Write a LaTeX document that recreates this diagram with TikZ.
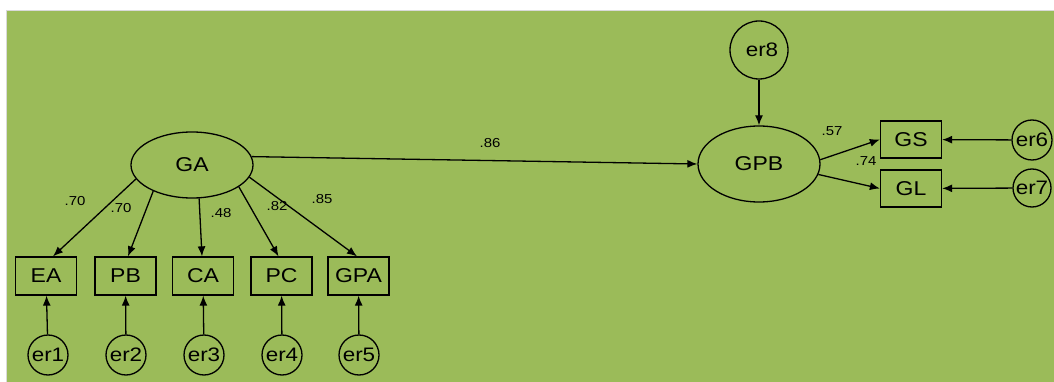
\documentclass[tikz,border=0pt]{standalone}
\usepackage{fontspec}
\setmainfont{Liberation Sans}[FakeStretch=1.15]
\usetikzlibrary{shapes.geometric,arrows.meta}
\definecolor{bggreen}{HTML}{9BBB59}
\definecolor{edgegray}{HTML}{D9D9D9}
\begin{document}
\begin{tikzpicture}[x=1pt,y=-1pt,
  lat/.style={ellipse,draw,line width=1.3pt,minimum width=122pt,minimum height=66pt,inner sep=0pt,font=\fontsize{20}{22}\selectfont},
  obs/.style={rectangle,draw,line width=1.3pt,minimum width=61pt,minimum height=38pt,inner sep=0pt,font=\fontsize{20}{22}\selectfont},
  err/.style={circle,draw,line width=1.3pt,minimum size=40pt,inner sep=0pt,font=\fontsize{19.5}{21}\selectfont},
  arr/.style={draw,line width=1.3pt,-{Latex[length=10pt,width=8pt]}},
  coef/.style={font=\fontsize{13}{14}\selectfont,inner sep=0pt}]
\useasboundingbox (0,0) rectangle (1054,382);
\fill[white] (0,0) rectangle (1054,382);
\fill[bggreen] (7,11) rectangle (1054,382);
\draw[edgegray,line width=1pt] (6.5,382) -- (6.5,10.5) -- (1054,10.5);

% latent variables
\node[lat] (GA) at (192,165) {GA};
\node[lat,minimum height=76pt] (GPB) at (759,164) {GPB};

% observed variables
\node[obs] (EA) at (46,276) {EA};
\node[obs] (PB) at (125.5,276) {PB};
\node[obs] (CA) at (203,276) {CA};
\node[obs] (PC) at (281.5,276) {PC};
\node[obs] (GPA) at (358.5,276) {GPA};
\node[obs,minimum height=37pt] (GS) at (911,139.5) {GS};
\node[obs,minimum height=37pt] (GL) at (911,188.5) {GL};

% errors
\node[err] (er1) at (48,355) {er1};
\node[err] (er2) at (126,355) {er2};
\node[err] (er3) at (204,355) {er3};
\node[err] (er4) at (282,355) {er4};
\node[err] (er5) at (359,355) {er5};
\node[err] (er6) at (1032,140) {er6};
\node[err,minimum size=38pt] (er7) at (1032,188) {er7};
\node[err,minimum size=58pt] (er8) at (759,50) {\hspace{6pt}er8};

% paths from GA
\draw[arr] (GA.194) -- ([xshift=7pt]EA.north);
\draw[arr] (GA.214) -- ([xshift=2.5pt]PB.north);
\draw[arr] (GA.282) -- ([xshift=-1pt]CA.north);
\draw[arr] (GA.335) -- ([xshift=-3pt]PC.north);
\draw[arr] (GA.348) -- ([xshift=-1.5pt]GPA.north);
\draw[arr] (GA.8) -- (GPB.west);

% paths from GPB
\draw[arr] (GPB.4) -- (GS.west);
\draw[arr] (GPB.350) -- (GL.west);

% error paths
\draw[arr] (er1) -- (EA);
\draw[arr] (er2) -- (PB);
\draw[arr] (er3) -- (CA);
\draw[arr] (er4) -- (PC);
\draw[arr] (er5) -- (GPA);
\draw[arr] (er6) -- (GS);
\draw[arr] (er7) -- (GL);
\draw[arr] (er8) -- (GPB);

% coefficients
\node[coef] (c1) at (75,201) {.70};
\node[coef] (c2) at (121,208) {.70};
\node[coef] (c3) at (221,213) {.48};
\node[coef] (c4) at (277,206) {.82};
\node[coef] (c5) at (322,199) {.85};
\node[coef] (c6) at (490,143) {.86};
\node[coef] (c7) at (832,131) {.57};
\node[coef] (c8) at (866,161) {.74};
\end{tikzpicture}
\end{document}
